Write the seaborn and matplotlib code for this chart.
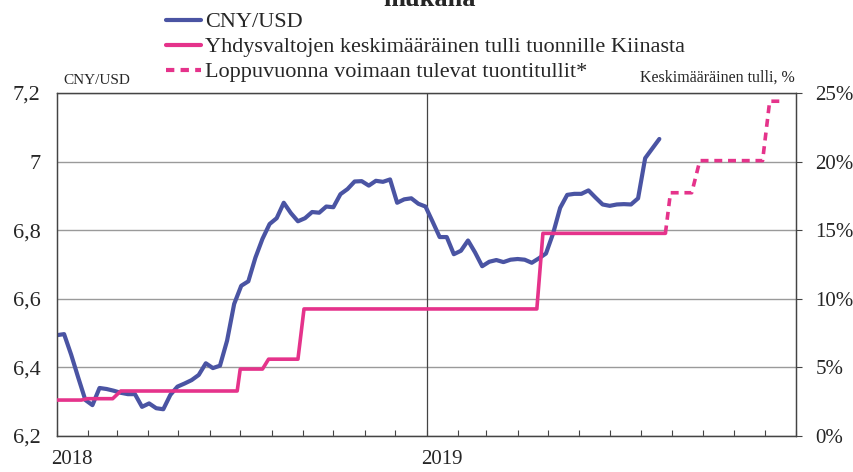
import numpy as np
import pandas as pd
import matplotlib
matplotlib.use("Agg")
import matplotlib.pyplot as plt
import matplotlib.dates as mdates
import seaborn as sns

# CNY/USD, weekly observations from the start of 2018
cny_usd = [6.494, 6.497, 6.437, 6.370, 6.305, 6.290, 6.340, 6.337, 6.332, 6.326,
           6.322, 6.322, 6.285, 6.295, 6.281, 6.278, 6.320, 6.344, 6.353, 6.363,
           6.378, 6.412, 6.398, 6.405, 6.478, 6.585, 6.638, 6.651, 6.720, 6.775,
           6.818, 6.835, 6.880, 6.850, 6.826, 6.835, 6.853, 6.851, 6.869, 6.867,
           6.905, 6.920, 6.942, 6.943, 6.930, 6.944, 6.941, 6.948, 6.880, 6.890,
           6.893, 6.877, 6.869, 6.825, 6.780, 6.780, 6.730, 6.740, 6.770, 6.735,
           6.695, 6.708, 6.713, 6.707, 6.714, 6.716, 6.714, 6.705, 6.718, 6.732,
           6.790, 6.865, 6.903, 6.906, 6.906, 6.916, 6.895, 6.875, 6.871, 6.875,
           6.876, 6.875, 6.893, 7.010, 7.038, 7.066]
cny_start = "2018-01-01"

# average US tariff on imports from China, %
tariff_dates = ["2018-01-01", "2018-01-25", "2018-01-31", "2018-02-25", "2018-03-05",
                "2018-06-28", "2018-07-01", "2018-07-23", "2018-07-29", "2018-08-27",
                "2018-09-02", "2019-04-20", "2019-04-26", "2019-08-25"]
tariff_pct = [2.62, 2.62, 2.72, 2.72, 3.28, 3.28, 4.88, 4.88, 5.60, 5.60,
              9.26, 9.26, 14.77, 14.77]

# tariffs coming into force by the end of the year, %
planned_dates = ["2019-08-25", "2019-08-30", "2019-09-20", "2019-09-28",
                 "2019-11-29", "2019-12-06", "2019-12-20"]
planned_pct = [14.77, 17.73, 17.73, 20.07, 20.07, 24.40, 24.40]

left_ticks = [6.2, 6.4, 6.6, 6.8, 7.0, 7.2]
left_labels = ["6,2", "6,4", "6,6", "6,8", "7", "7,2"]
right_ticks = [0, 5, 10, 15, 20, 25]
right_labels = ["0%", "5%", "10%", "15%", "20%", "25%"]
years = ["2018", "2019"]

BLUE = "#4a54a3"
PINK = "#e5338b"
GRID = "#9a9a9a"
FRAME = "#444444"

sns.set_style("white")
plt.rcParams["font.family"] = ["Liberation Serif", "DejaVu Serif"]

cny = pd.DataFrame({"date": pd.date_range(cny_start, periods=len(cny_usd), freq="7D"),
                    "value": cny_usd})
tar = pd.DataFrame({"date": pd.to_datetime(tariff_dates), "value": tariff_pct})
plan = pd.DataFrame({"date": pd.to_datetime(planned_dates), "value": planned_pct})

fig = plt.figure(figsize=(8.54, 4.72), dpi=100)
ax = fig.add_axes([57 / 854, 1 - 436 / 472, (796 - 57) / 854, (436 - 93) / 472])
ax2 = ax.twinx()

sns.lineplot(data=cny, x="date", y="value", ax=ax, color=BLUE, lw=3.0,
             sort=False, legend=False, zorder=4)
sns.lineplot(data=tar, x="date", y="value", ax=ax2, color=PINK, lw=2.6,
             sort=False, legend=False, zorder=3)
sns.lineplot(data=plan, x="date", y="value", ax=ax2, color=PINK, lw=2.6,
             sort=False, legend=False, zorder=3)
ax2.lines[-1].set_dashes([2.2, 1.6])

ax.set_xlim(pd.Timestamp("2018-01-01"), pd.Timestamp("2020-01-01"))
ax.set_ylim(6.2, 7.2)
ax2.set_ylim(0, 25)

ax.set_yticks(left_ticks)
ax.set_yticklabels(left_labels, fontsize=16)
ax2.set_yticks(right_ticks)
ax2.set_yticklabels(right_labels, fontsize=15)
ax.tick_params(axis="y", length=0, pad=12)
ax2.tick_params(axis="y", length=4, width=0.8, color=FRAME, pad=10)

ax.yaxis.grid(True, color=GRID, lw=1.0)
ax.set_axisbelow(True)
ax.axvline(pd.Timestamp("2019-01-01"), color=FRAME, lw=0.9, zorder=1)

ax.xaxis.set_major_locator(mdates.YearLocator())
ax.xaxis.set_minor_locator(mdates.MonthLocator())
ax.set_xticklabels([])
ax.tick_params(axis="x", which="both", direction="in", length=4, width=0.8,
               color=FRAME, bottom=True)
for y in years:
    ax.text(pd.Timestamp(y + "-01-16"), -0.04, y, transform=ax.get_xaxis_transform(),
            ha="center", va="top", fontsize=15)

ax.set_xlabel("")
ax.set_ylabel("")
ax2.set_ylabel("")
for a in (ax, ax2):
    for s in a.spines.values():
        s.set_color(FRAME)
        s.set_linewidth(0.9)

fig.text(63 / 854, 1 - 80 / 472, "CNY/USD", ha="left", va="center", fontsize=11)
fig.text(795 / 854, 1 - 78 / 472, "Keskimääräinen tulli, %", ha="right",
         va="center", fontsize=11.5)
fig.text(430 / 854, 1 - 6 / 472, "mukana", ha="center", va="baseline",
         fontsize=19, fontweight="bold")

handles = [plt.Line2D([], [], color=BLUE, lw=3),
           plt.Line2D([], [], color=PINK, lw=3),
           plt.Line2D([], [], color=PINK, lw=3, dashes=[2.0, 1.5])]
labels = ["CNY/USD", "Yhdysvaltojen keskimääräinen tulli tuonnille Kiinasta",
          "Loppuvuonna voimaan tulevat tuontitullit*"]
fig.legend(handles, labels, loc="upper left", bbox_to_anchor=(157 / 854, 1 - 3 / 472),
           frameon=False, fontsize=16, handlelength=1.6, handletextpad=0.15,
           labelspacing=0.2, borderaxespad=0)

fig.savefig("out.png", dpi=100, facecolor="white")
